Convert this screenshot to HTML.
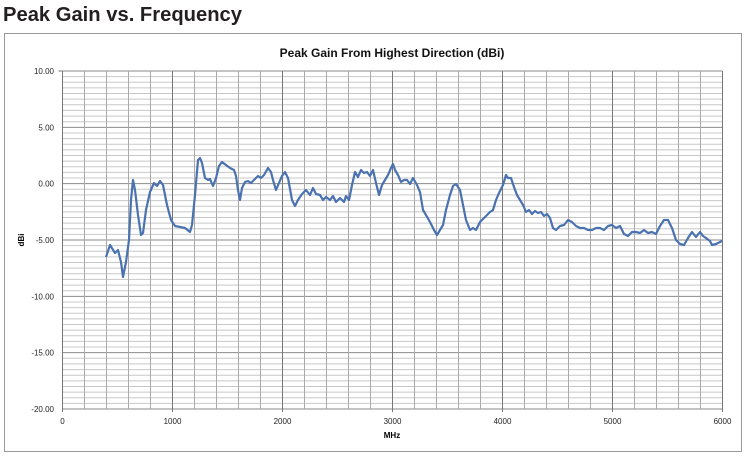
<!DOCTYPE html>
<html><head><meta charset="utf-8"><style>
body{margin:0;background:#fff;width:747px;height:457px;overflow:hidden}
svg{display:block}
</style></head><body>
<svg id="s" width="747" height="457" xmlns="http://www.w3.org/2000/svg" font-family="Liberation Sans, sans-serif">
<text x="3" y="21" font-size="20" font-weight="bold" fill="#231f20" textLength="239" lengthAdjust="spacingAndGlyphs">Peak Gain vs. Frequency</text>
<rect x="4.5" y="33.5" width="737" height="418" fill="#fff" stroke="#999" stroke-width="1"/>
<text x="392" y="57" font-size="12" font-weight="bold" text-anchor="middle" fill="#111">Peak Gain From Highest Direction (dBi)</text>
<g id="grid"></g>
<g font-size="8" fill="#222" text-anchor="end" id="ylab"></g>
<g font-size="8" fill="#222" text-anchor="middle" id="xlab"></g>
<text x="392" y="438" font-size="8" font-weight="bold" text-anchor="middle">MHz</text>
<text transform="translate(24,240) rotate(-90)" font-size="8" font-weight="bold" text-anchor="middle">dBi</text>
<polyline fill="none" stroke="#4a72b0" stroke-width="2.2" stroke-linejoin="round" points="106,257 110,245 115,253 118,250 121,262 123,277 126,262 129,240 131,200 133,180 135,190 138,215 141,235 143,233 146,210 150,192 154,183 157,186 160,181 163,185 167,205 171,220 175,226 180,227 185,228 190,232 192,225 195,195 198,160 200,158 202,163 205,178 208,180 210,179 213,186 216,178 219,166 222,162 226,165 230,168 234,170 236,176 238,190 240,200 242,188 245,182 248,181 251,183 254,180 258,176 261,178 264,175 268,168 271,172 273,180 276,190 279,183 282,176 285,172 288,178 292,200 295,206 298,200 302,194 306,190 310,195 313,188 316,194 320,195 323,200 326,197 330,200 333,196 336,202 340,198 344,202 346,196 349,200 352,185 355,172 358,177 361,170 364,173 367,172 370,176 373,170 376,183 379,195 382,185 385,180 388,175 391,168 393,164 395,170 398,175 401,182 404,180 407,180 410,184 413,178 417,185 420,192 423,210 426,215 430,222 434,230 437,235 440,230 443,225 446,210 450,195 453,186 456,184 460,190 463,205 466,220 470,230 473,228 476,230 480,222 484,218 487,215 490,212 493,210 496,200 499,193 503,185 506,175 508,178 511,178 514,187 517,195 520,200 523,205 526,212 529,210 532,214 535,211 538,213 541,212 544,216 547,214 550,218 553,228 556,230 560,226 564,225 568,220 572,222 576,226 580,228 584,228 588,230 592,230 596,228 600,228 604,230 608,226 612,225 616,228 620,226 624,234 628,236 632,232 636,232 640,233 644,230 648,233 652,232 656,234 660,226 664,220 668,220 672,228 676,240 680,244 684,245 688,238 692,232 696,237 700,232 703,236 706,238 710,241 712,245 716,244 720,242 722,241"/>
</svg>
<script>
var NS="http://www.w3.org/2000/svg";
var g=document.getElementById('grid'),yl=document.getElementById('ylab'),xl=document.getElementById('xlab');
var x0=62.5,x1=722.5,y0=71,y1=409;
function ln(a,b,c,d,col,w){var l=document.createElementNS(NS,'line');l.setAttribute('x1',a);l.setAttribute('y1',b);l.setAttribute('x2',c);l.setAttribute('y2',d);l.setAttribute('stroke',col);l.setAttribute('stroke-width',w);g.appendChild(l);}
for(var i=0;i<=60;i++){var y=y0+(y1-y0)*i/60;var maj=i%10==0;ln(x0,y,x1,y,maj?'#8a8a8a':'#c8c8c8',1);}
for(var i=0;i<=30;i++){var x=x0+(x1-x0)*i/30;var maj=i%5==0;ln(x,y0,x,y1+(maj?3:0),maj?'#777':'#aaa',1);}
ln(x0,y0,x0,y1,'#777',1);ln(x0-4,y0,x0,y0,'#777',1);
for(var i=0;i<=6;i++){var y=y0+(y1-y0)*i/6;var t=document.createElementNS(NS,'text');t.setAttribute('x',54);t.setAttribute('y',y+3);t.textContent=(10-5*i).toFixed(2);yl.appendChild(t);}
for(var i=0;i<=6;i++){var x=x0+(x1-x0)*i/6;var t=document.createElementNS(NS,'text');t.setAttribute('x',x);t.setAttribute('y',424);t.textContent=i*1000;xl.appendChild(t);}
</script>
</body></html>
